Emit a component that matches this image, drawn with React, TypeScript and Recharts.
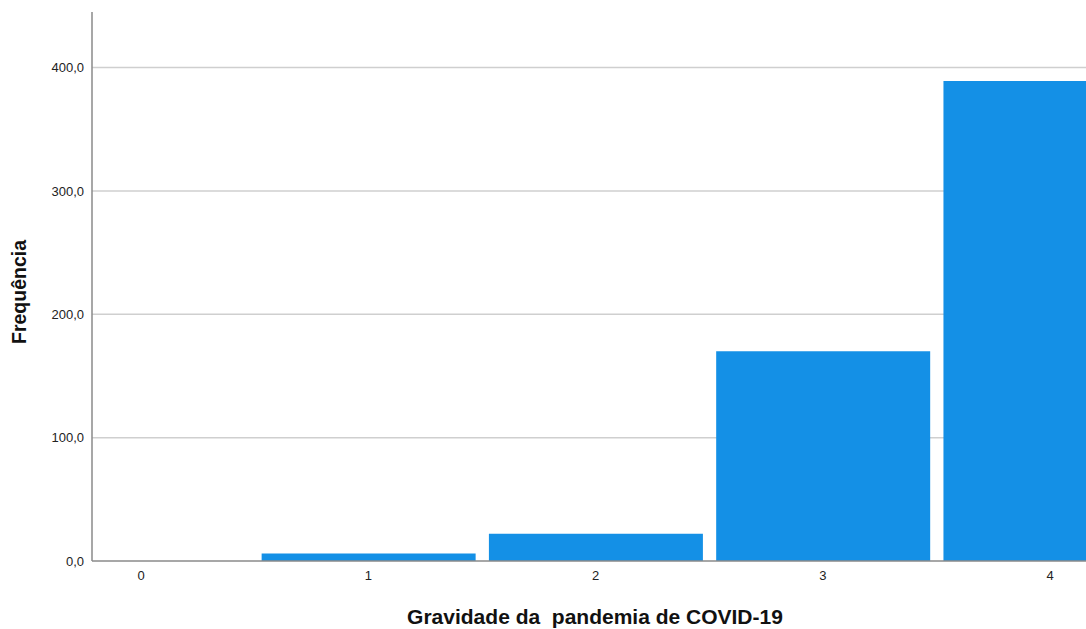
import { BarChart, Bar, XAxis, YAxis, CartesianGrid, Label } from "recharts";

const categories = [0, 1, 2, 3, 4];
const frequencies = [0, 6, 22, 170, 389];
const yTicks = [0, 100, 200, 300, 400];
const gridValues = [100, 200, 300, 400];

const data = categories.map((c, i) => ({ gravidade: c, freq: frequencies[i] }));

const fmt = (v: number) => v.toFixed(1).replace(".", ",");

export default function App() {
  return (
    <div style={{ position: "absolute", left: 0, top: 0, width: 1086, height: 629, overflow: "hidden", background: "#fff" }}>
      <BarChart
        width={1086}
        height={629}
        data={data}
        margin={{ top: 12, right: 0, left: 0, bottom: 0 }}
        style={{ fontFamily: "'Liberation Sans', Arial, sans-serif" }}
      >
        <CartesianGrid stroke="#cfcfcf" strokeWidth={1.5} vertical={false} horizontalValues={gridValues} />
        <XAxis
          dataKey="gravidade"
          type="number"
          domain={[-0.2156, 4.158]}
          ticks={categories}
          allowDataOverflow
          height={68}
          axisLine={{ stroke: "#8a8a8a", strokeWidth: 1.5 }}
          tickLine={false}
          tick={{ fill: "#222", fontSize: 13 }}
          tickMargin={4}
        >
          <Label
            value={"Gravidade da\u00A0 pandemia de COVID-19"}
            position="insideBottom"
            offset={5}
            dx={6}
            style={{ fontSize: 21, fontWeight: "bold", fill: "#111" }}
          />
        </XAxis>
        <YAxis
          type="number"
          domain={[0, 445]}
          ticks={yTicks}
          width={92}
          allowDataOverflow
          axisLine={{ stroke: "#8a8a8a", strokeWidth: 1.5 }}
          tickLine={false}
          tickFormatter={fmt}
          tick={{ fill: "#222", fontSize: 13 }}
        >
          <Label
            content={() => (
              <text
                x={26}
                y={292}
                transform="rotate(-90 26 292)"
                textAnchor="middle"
                style={{ fontSize: 19.5, fontWeight: "bold", fill: "#111" }}
              >
                Frequência
              </text>
            )}
          />
        </YAxis>
        <Bar dataKey="freq" fill="#1490e6" barSize={214} isAnimationActive={false} />
      </BarChart>
    </div>
  );
}
